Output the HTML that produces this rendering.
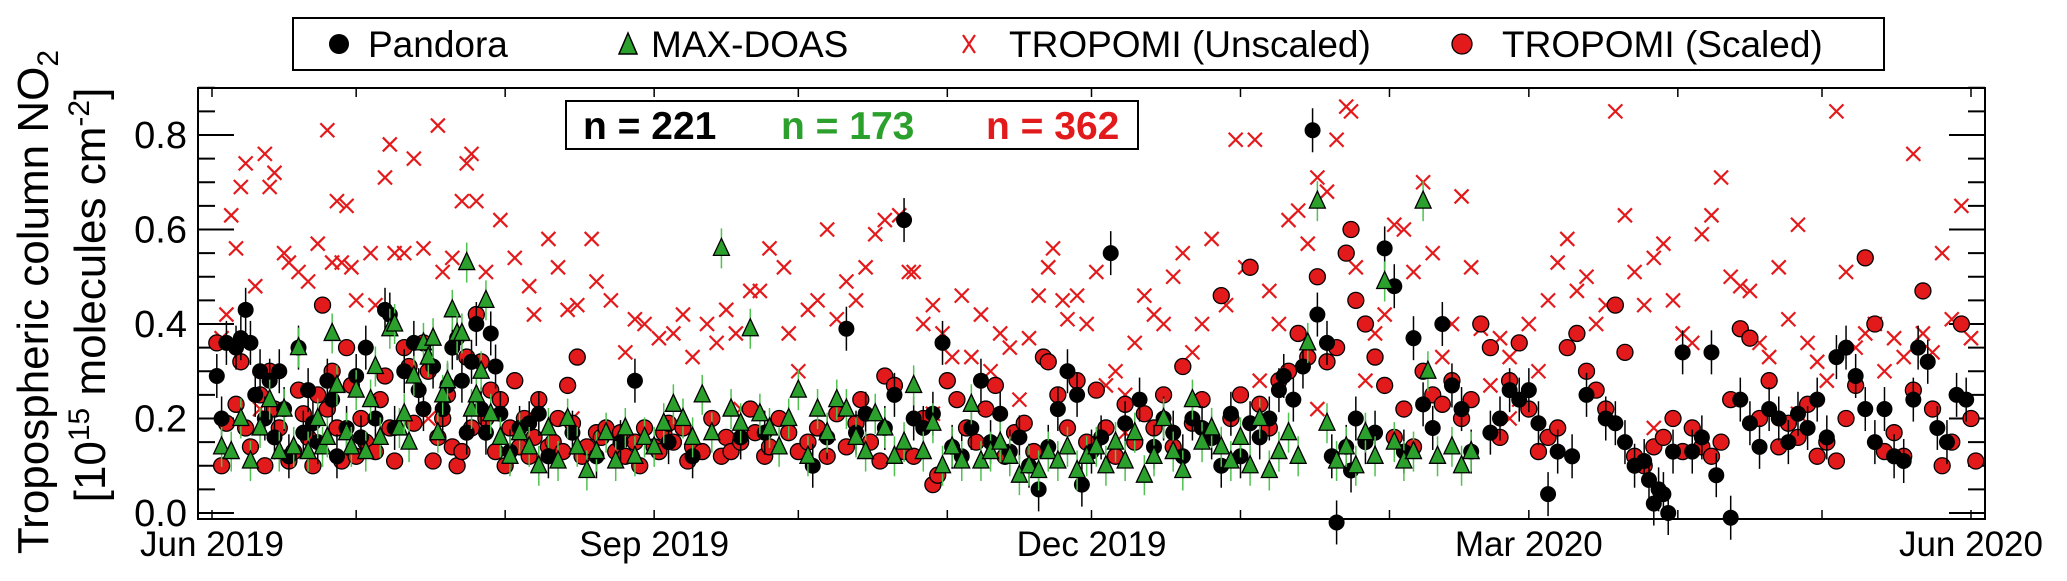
<!DOCTYPE html>
<html><head><meta charset="utf-8"><style>
html,body{margin:0;padding:0;background:#fff;}
svg{display:block;font-family:"Liberation Sans",Arial,sans-serif;}
</style></head><body>
<svg id="chart" width="2067" height="581" viewBox="0 0 2067 581" xmlns="http://www.w3.org/2000/svg">
<g>
<rect x="293" y="18" width="1591" height="52" fill="#fff" stroke="#000" stroke-width="2"/>
<g><circle cx="339" cy="44" r="10" fill="#000"/><text x="368" y="57" font-size="37">Pandora</text></g>
<g><polygon points="628,33 619,54 637,54" fill="#2ca02c" stroke="#000" stroke-width="1.5"/><text x="651" y="57" font-size="37">MAX-DOAS</text></g>
<g><path d="M963,35 L975,53 M975,35 L963,53" stroke="#e31a1c" stroke-width="2.2"/><text x="1009" y="57" font-size="37">TROPOMI (Unscaled)</text></g>
<g><circle cx="1462" cy="44" r="10" fill="#e31a1c" stroke="#000" stroke-width="1.3"/><text x="1502" y="57" font-size="37">TROPOMI (Scaled)</text></g>
</g>
<text transform="translate(48,302) rotate(-90)" text-anchor="middle" font-size="44">Tropospheric column NO<tspan font-size="30" dy="10">2</tspan></text>
<text transform="translate(105,295) rotate(-90)" text-anchor="middle" font-size="44">[10<tspan font-size="30" dy="-16">15</tspan><tspan dy="16"> molecules cm</tspan><tspan font-size="30" dy="-16">-2</tspan><tspan dy="16">]</tspan></text>
<g id="ticks"></g>
<g id="marks"></g>
<rect x="198" y="88" width="1787" height="431" fill="none" stroke="#000" stroke-width="2"/>
<g>
<rect x="566" y="101" width="572" height="48" fill="#fff" stroke="#000" stroke-width="2"/>
<text x="583" y="139" font-size="39" font-weight="bold" fill="#000">n = 221</text>
<text x="781" y="139" font-size="39" font-weight="bold" fill="#2ca02c">n = 173</text>
<text x="986" y="139" font-size="39" font-weight="bold" fill="#e31a1c">n = 362</text>
</g>
</svg>
<script>
const yTicks=[0.0,0.2,0.4,0.6,0.8];
const yTickLabels=["0.0","0.2","0.4","0.6","0.8"];
const monthDays=[0,30,61,92,122,153,183,214,245,274,305,335,366];
const xLabelDays=[0,92,183,274,366];
const xLabels=["Jun 2019","Sep 2019","Dec 2019","Mar 2020","Jun 2020"];
const tropUnscaled=[[2,0.37],[3,0.42],[4,0.63],[5,0.56],[6,0.69],[7,0.74],[9,0.48],[11,0.76],[12,0.69],[13,0.72],[15,0.55],[16,0.53],[18,0.51],[20,0.49],[22,0.57],[24,0.81],[25,0.53],[26,0.66],[27,0.53],[28,0.65],[29,0.52],[30,0.45],[33,0.55],[34,0.44],[36,0.71],[37,0.78],[38,0.55],[40,0.55],[42,0.75],[44,0.56],[47,0.82],[48,0.51],[50,0.54],[52,0.66],[53,0.74],[54,0.76],[55,0.66],[57,0.51],[60,0.62],[63,0.54],[66,0.48],[67,0.42],[70,0.58],[72,0.52],[74,0.43],[76,0.44],[79,0.58],[80,0.49],[83,0.45],[86,0.34],[88,0.41],[90,0.40],[93,0.37],[96,0.38],[98,0.42],[100,0.33],[103,0.40],[105,0.36],[107,0.43],[109,0.38],[112,0.47],[114,0.47],[116,0.56],[119,0.52],[120,0.38],[122,0.30],[124,0.43],[126,0.45],[128,0.60],[130,0.41],[132,0.49],[134,0.45],[136,0.52],[138,0.59],[140,0.62],[143,0.63],[145,0.51],[146,0.51],[148,0.40],[150,0.44],[152,0.38],[154,0.33],[156,0.46],[158,0.33],[160,0.42],[162,0.30],[164,0.38],[166,0.35],[168,0.24],[170,0.37],[172,0.46],[174,0.52],[175,0.56],[177,0.45],[178,0.41],[180,0.46],[182,0.40],[184,0.51],[186,0.27],[188,0.30],[190,0.25],[192,0.36],[194,0.46],[196,0.42],[198,0.40],[200,0.50],[202,0.55],[204,0.34],[206,0.40],[208,0.58],[211,0.44],[213,0.79],[215,0.52],[217,0.79],[218,0.28],[220,0.47],[222,0.40],[224,0.62],[226,0.64],[228,0.57],[230,0.71],[232,0.68],[234,0.79],[236,0.86],[237,0.85],[238,0.52],[240,0.28],[242,0.38],[244,0.42],[246,0.61],[248,0.60],[250,0.51],[252,0.70],[254,0.55],[256,0.33],[258,0.40],[260,0.67],[262,0.52],[264,0.39],[266,0.27],[268,0.37],[270,0.33],[272,0.24],[274,0.40],[276,0.30],[278,0.45],[280,0.53],[282,0.58],[284,0.47],[286,0.50],[288,0.40],[290,0.44],[292,0.85],[294,0.63],[296,0.51],[298,0.44],[300,0.54],[302,0.57],[304,0.45],[306,0.38],[308,0.36],[310,0.59],[312,0.63],[314,0.71],[316,0.50],[318,0.48],[320,0.47],[322,0.36],[324,0.33],[326,0.52],[328,0.41],[330,0.61],[332,0.36],[334,0.32],[336,0.28],[338,0.85],[340,0.51],[342,0.35],[344,0.38],[346,0.40],[348,0.30],[350,0.37],[352,0.33],[354,0.76],[356,0.38],[358,0.34],[360,0.55],[362,0.41],[364,0.65],[366,0.37],[10,0.22],[45,0.20],[75,0.20],[110,0.22],[150,0.21],[190,0.17],[230,0.22],[270,0.20],[300,0.18],[330,0.21]];
const tropScaled=[[1,0.36],[2,0.10],[3,0.19],[5,0.23],[6,0.32],[7,0.18],[8,0.14],[10,0.25],[11,0.10],[12,0.30],[13,0.22],[14,0.18],[16,0.11],[17,0.13],[18,0.26],[19,0.21],[20,0.16],[21,0.10],[22,0.25],[23,0.44],[24,0.22],[25,0.30],[26,0.18],[27,0.11],[28,0.35],[29,0.27],[30,0.12],[31,0.20],[32,0.15],[34,0.13],[35,0.24],[36,0.29],[37,0.18],[38,0.11],[40,0.35],[41,0.31],[42,0.19],[44,0.36],[45,0.30],[46,0.11],[47,0.16],[48,0.20],[49,0.25],[50,0.14],[51,0.10],[52,0.13],[53,0.33],[54,0.18],[55,0.42],[56,0.32],[57,0.20],[58,0.26],[59,0.13],[60,0.24],[61,0.10],[62,0.18],[63,0.28],[64,0.14],[65,0.20],[66,0.12],[67,0.16],[68,0.24],[70,0.14],[71,0.15],[72,0.20],[73,0.13],[74,0.27],[75,0.19],[76,0.33],[77,0.12],[78,0.14],[80,0.17],[81,0.16],[82,0.18],[84,0.13],[85,0.17],[86,0.12],[88,0.15],[89,0.10],[90,0.18],[92,0.14],[93,0.13],[94,0.17],[95,0.19],[96,0.15],[98,0.18],[99,0.11],[100,0.14],[102,0.13],[104,0.20],[106,0.12],[107,0.16],[108,0.13],[110,0.15],[112,0.22],[113,0.17],[115,0.12],[116,0.14],[118,0.20],[120,0.17],[122,0.13],[124,0.15],[126,0.18],[128,0.12],[130,0.21],[132,0.14],[134,0.19],[135,0.24],[137,0.15],[139,0.11],[140,0.29],[142,0.27],[144,0.13],[146,0.12],[148,0.20],[150,0.06],[151,0.08],[153,0.28],[155,0.24],[157,0.18],[159,0.15],[161,0.22],[163,0.27],[165,0.12],[167,0.17],[169,0.19],[171,0.13],[173,0.33],[174,0.32],[176,0.25],[178,0.18],[180,0.28],[182,0.15],[184,0.26],[186,0.18],[188,0.12],[190,0.23],[192,0.15],[194,0.21],[196,0.18],[198,0.25],[200,0.14],[202,0.31],[204,0.19],[206,0.24],[208,0.16],[210,0.46],[212,0.20],[214,0.25],[216,0.52],[218,0.23],[220,0.18],[222,0.28],[224,0.30],[226,0.38],[228,0.33],[230,0.50],[232,0.32],[234,0.35],[236,0.55],[237,0.60],[238,0.45],[240,0.40],[242,0.33],[244,0.27],[246,0.16],[248,0.22],[250,0.14],[252,0.30],[254,0.25],[256,0.23],[258,0.28],[260,0.20],[262,0.24],[264,0.40],[266,0.35],[268,0.16],[270,0.28],[272,0.36],[274,0.22],[276,0.13],[278,0.16],[280,0.18],[282,0.35],[284,0.38],[286,0.30],[288,0.26],[290,0.22],[292,0.44],[294,0.34],[296,0.12],[298,0.10],[300,0.14],[302,0.16],[304,0.20],[306,0.13],[308,0.18],[310,0.14],[312,0.12],[314,0.15],[316,0.24],[318,0.39],[320,0.37],[322,0.20],[324,0.28],[326,0.14],[328,0.19],[330,0.16],[332,0.23],[334,0.12],[336,0.15],[338,0.11],[340,0.20],[342,0.27],[344,0.54],[346,0.40],[348,0.13],[350,0.17],[352,0.12],[354,0.26],[356,0.47],[358,0.22],[360,0.10],[362,0.15],[364,0.40],[366,0.20],[367,0.11]];
const pandora=[[1,0.29],[2,0.20],[3,0.36],[5,0.35],[6,0.37],[7,0.43],[8,0.36],[9,0.25],[10,0.30],[11,0.20],[12,0.28],[13,0.16],[14,0.30],[15,0.22],[16,0.12],[18,0.35],[19,0.17],[20,0.26],[21,0.19],[22,0.15],[24,0.28],[25,0.24],[26,0.12],[28,0.18],[30,0.29],[31,0.16],[32,0.35],[34,0.20],[36,0.43],[37,0.42],[38,0.18],[40,0.30],[42,0.36],[43,0.26],[44,0.22],[46,0.31],[48,0.22],[49,0.27],[50,0.35],[51,0.37],[52,0.28],[53,0.17],[54,0.32],[55,0.40],[56,0.22],[57,0.17],[58,0.38],[59,0.31],[60,0.21],[62,0.13],[64,0.18],[66,0.19],[68,0.21],[70,0.12],[75,0.17],[80,0.12],[85,0.15],[88,0.28],[95,0.15],[100,0.12],[110,0.16],[115,0.17],[125,0.10],[128,0.16],[132,0.39],[134,0.17],[136,0.21],[140,0.18],[142,0.25],[144,0.62],[146,0.20],[148,0.18],[150,0.21],[152,0.36],[154,0.14],[156,0.12],[158,0.18],[160,0.28],[162,0.15],[164,0.21],[166,0.13],[168,0.16],[170,0.10],[172,0.05],[174,0.14],[176,0.22],[178,0.30],[180,0.25],[181,0.06],[183,0.13],[185,0.16],[187,0.55],[190,0.19],[193,0.24],[196,0.14],[198,0.20],[200,0.17],[202,0.12],[204,0.20],[206,0.18],[208,0.16],[210,0.10],[212,0.21],[214,0.12],[216,0.19],[218,0.16],[220,0.20],[222,0.26],[223,0.29],[225,0.24],[227,0.31],[229,0.81],[230,0.42],[232,0.36],[233,0.12],[234,-0.02],[236,0.14],[237,0.09],[238,0.20],[240,0.15],[242,0.17],[244,0.56],[246,0.48],[248,0.13],[250,0.37],[252,0.23],[254,0.18],[256,0.40],[258,0.27],[260,0.22],[262,0.13],[266,0.17],[268,0.20],[270,0.26],[272,0.24],[274,0.26],[276,0.19],[278,0.04],[280,0.13],[283,0.12],[286,0.25],[290,0.20],[292,0.19],[294,0.15],[296,0.10],[298,0.11],[299,0.07],[300,0.02],[301,0.05],[302,0.04],[303,0.00],[304,0.13],[306,0.34],[308,0.13],[310,0.16],[312,0.34],[313,0.08],[316,-0.01],[318,0.24],[320,0.19],[322,0.14],[324,0.22],[326,0.20],[328,0.15],[330,0.21],[332,0.18],[334,0.24],[336,0.16],[338,0.33],[340,0.35],[342,0.29],[344,0.22],[346,0.15],[348,0.22],[350,0.12],[352,0.11],[354,0.24],[355,0.35],[357,0.32],[359,0.18],[361,0.15],[363,0.25],[365,0.24]];
const maxdoas=[[2,0.14],[4,0.13],[6,0.20],[8,0.11],[10,0.18],[12,0.24],[14,0.13],[15,0.22],[17,0.14],[18,0.35],[20,0.13],[22,0.20],[23,0.14],[24,0.16],[25,0.38],[26,0.27],[28,0.17],[29,0.14],[30,0.26],[32,0.13],[33,0.24],[34,0.31],[35,0.16],[37,0.39],[38,0.40],[39,0.18],[40,0.21],[41,0.15],[42,0.29],[44,0.36],[45,0.33],[46,0.37],[47,0.17],[48,0.25],[49,0.28],[50,0.43],[51,0.38],[52,0.38],[53,0.53],[54,0.22],[55,0.25],[56,0.30],[57,0.45],[58,0.21],[60,0.16],[62,0.12],[64,0.17],[66,0.14],[68,0.10],[70,0.18],[72,0.11],[74,0.20],[76,0.14],[78,0.09],[80,0.13],[82,0.17],[84,0.11],[86,0.18],[88,0.12],[90,0.16],[92,0.14],[94,0.19],[96,0.23],[98,0.20],[100,0.16],[102,0.25],[104,0.17],[106,0.56],[108,0.22],[110,0.19],[112,0.39],[114,0.21],[116,0.18],[118,0.14],[120,0.20],[122,0.26],[124,0.12],[126,0.22],[128,0.17],[130,0.24],[132,0.22],[134,0.16],[136,0.13],[138,0.21],[140,0.18],[142,0.12],[144,0.15],[146,0.27],[148,0.13],[150,0.19],[152,0.10],[154,0.14],[156,0.11],[158,0.23],[160,0.11],[162,0.13],[164,0.15],[166,0.12],[168,0.08],[170,0.10],[172,0.09],[174,0.13],[176,0.11],[178,0.14],[180,0.09],[182,0.12],[184,0.14],[186,0.10],[188,0.15],[190,0.11],[192,0.17],[194,0.08],[196,0.12],[198,0.20],[200,0.13],[202,0.09],[204,0.24],[206,0.15],[208,0.18],[210,0.14],[212,0.11],[214,0.16],[216,0.10],[218,0.20],[220,0.09],[222,0.13],[224,0.17],[226,0.12],[228,0.36],[230,0.66],[232,0.19],[234,0.11],[236,0.14],[238,0.10],[240,0.17],[242,0.12],[244,0.49],[246,0.15],[248,0.11],[250,0.13],[252,0.66],[253,0.30],[255,0.12],[258,0.14],[260,0.10],[262,0.13]];

const NS="http://www.w3.org/2000/svg";
const x=d=>212+4.806*d;
const y=v=>513-v*472.5;
function mk(tag,attrs,parent){const e=document.createElementNS(NS,tag);for(const k in attrs)e.setAttribute(k,attrs[k]);parent.appendChild(e);return e;}
const tk=document.getElementById('ticks');
const mg=document.getElementById('marks');
for(let i=0;i<=18;i++){const v=i*0.05;const yy=y(v);const long=i%4===0;const L=long?36:17;
 mk('line',{x1:198,x2:198+L,y1:yy,y2:yy,stroke:'#000','stroke-width':2},tk);
 mk('line',{x1:1985,x2:1985-L,y1:yy,y2:yy,stroke:'#000','stroke-width':2},tk);}
yTicks.forEach((v,i)=>{const t=mk('text',{x:187,y:y(v)+13,'text-anchor':'end','font-size':38},tk);t.textContent=yTickLabels[i];

});
monthDays.forEach(d=>{mk('line',{x1:x(d),x2:x(d),y1:519,y2:510,stroke:'#000','stroke-width':1.5},tk);mk('line',{x1:x(d),x2:x(d),y1:88,y2:97,stroke:'#000','stroke-width':1.5},tk);});
xLabelDays.forEach((d,i)=>{const t=mk('text',{x:x(d),y:556,'text-anchor':'middle','font-size':35},tk);t.textContent=xLabels[i];

});
const gU=mk('g',{},mg);


tropUnscaled.forEach(([d,v])=>{const cx=x(d),cy=y(v);const p=mk('path',{d:`M${cx-7},${cy-7}L${cx+7},${cy+7}M${cx+7},${cy-7}L${cx-7},${cy+7}`,stroke:'#e31a1c','stroke-width':2.2},gU);

});
const gS=mk('g',{},mg);


tropScaled.forEach(([d,v])=>{const c=mk('circle',{cx:x(d),cy:y(v),r:8,fill:'#e31a1c',stroke:'#000','stroke-width':1.3},gS);

});
const gP=mk('g',{},mg);


pandora.forEach(([d,v])=>{const cx=x(d),cy=y(v);mk('line',{x1:cx,x2:cx,y1:cy-22,y2:cy+22,stroke:'#000','stroke-width':1.5},gP);
const c=mk('circle',{cx:cx,cy:cy,r:8,fill:'#000'},gP);

});
const gM=mk('g',{},mg);


maxdoas.forEach(([d,v])=>{const cx=x(d),cy=y(v);mk('line',{x1:cx,x2:cx,y1:cy-20,y2:cy+20,stroke:'#4fc24f','stroke-width':1.5},gM);
const p=mk('polygon',{points:`${cx},${cy-10} ${cx-8},${cy+7} ${cx+8},${cy+7}`,fill:'#2ca02c',stroke:'#000','stroke-width':1.3},gM);

});
</script>
</body></html>
